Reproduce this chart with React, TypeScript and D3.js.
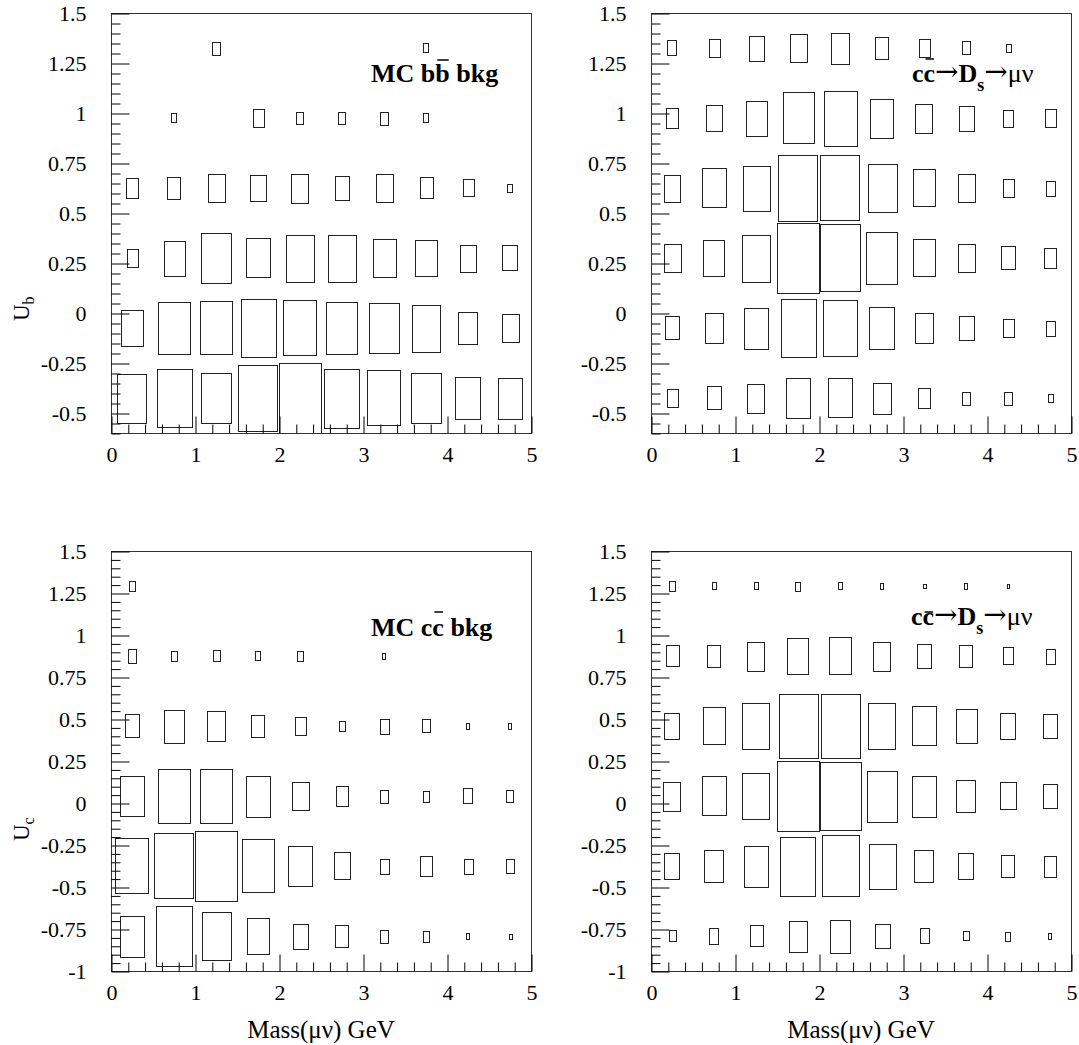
// @ts-nocheck
import React, { useEffect, useRef } from "react";
import * as d3 from "d3";

// bin edges of the 2D histograms
const massEdges = [0, 0.5, 1, 1.5, 2, 2.5, 3, 3.5, 4, 4.5, 5];
const ubEdges = [-0.6, -0.25, 0.1, 0.45, 0.8, 1.15, 1.5];
const ucEdges = [-1, -0.5833, -0.1667, 0.25, 0.6667, 1.0833, 1.5];

// tick labels
const massTicks = [0, 1, 2, 3, 4, 5];
const ubTicks = [-0.5, -0.25, 0, 0.25, 0.5, 0.75, 1, 1.25, 1.5];
const ucTicks = [-1, -0.75, -0.5, -0.25, 0, 0.25, 0.5, 0.75, 1, 1.25, 1.5];

// bin contents, one row per y bin (lowest first), one value per mass bin
const bbbarUb = [
  [70, 83, 71, 94, 100, 84, 79, 71, 60, 58],
  [52, 75, 76, 83, 79, 74, 72, 67, 46, 40],
  [25, 50, 71, 56, 67, 67, 54, 52, 38, 36],
  [28, 32, 40, 37, 41, 34, 40, 30, 25, 12],
  [0, 13, 0, 25, 17, 17, 18, 13, 0, 0],
  [0, 0, 18, 0, 0, 0, 0, 13, 0, 0],
];
const dsUb = [
  [25, 33, 41, 57, 56, 44, 28, 18, 18, 11],
  [33, 43, 58, 83, 80, 60, 43, 35, 26, 21],
  [40, 51, 67, 100, 96, 74, 53, 40, 33, 29],
  [38, 56, 64, 94, 93, 69, 53, 40, 26, 21],
  [28, 37, 50, 73, 78, 55, 41, 35, 24, 25],
  [22, 25, 35, 40, 44, 31, 25, 19, 11, 0],
];
const ccbarUc = [
  [58, 85, 68, 52, 35, 32, 18, 15, 8, 7],
  [79, 93, 100, 76, 57, 39, 21, 28, 21, 20],
  [57, 77, 77, 58, 40, 28, 18, 15, 22, 17],
  [33, 47, 43, 32, 25, 14, 21, 19, 8, 8],
  [20, 14, 16, 13, 15, 0, 8, 0, 0, 0],
  [14, 0, 0, 0, 0, 0, 0, 0, 0, 0],
];
const dsUc = [
  [16, 22, 30, 43, 46, 34, 21, 13, 12, 8],
  [36, 45, 57, 82, 86, 63, 45, 36, 31, 29],
  [40, 55, 64, 98, 95, 71, 57, 45, 38, 33],
  [36, 52, 64, 90, 90, 64, 55, 48, 36, 33],
  [30, 31, 40, 50, 52, 40, 33, 31, 24, 21],
  [14, 10, 10, 12, 10, 8, 6, 8, 5, 0],
];

// panel texts
const bbLabel = [
  { t: "MC b", bold: true },
  { t: "b", bold: true, bar: true },
  { t: " bkg", bold: true },
];
const ccLabel = [
  { t: "MC c", bold: true },
  { t: "c", bold: true, bar: true },
  { t: " bkg", bold: true },
];
const dsLabel = [
  { t: "c", bold: true },
  { t: "c", bold: true, bar: true },
  { t: "\u2192", arrow: true },
  { t: "D", bold: true },
  { t: "s", bold: true, sub: true },
  { t: "\u2192", arrow: true },
  { t: "\u03bc\u03bd" },
];
const xTitle = "Mass(\u03bc\u03bd) GeV";

const serif = "'Liberation Serif', 'Times New Roman', serif";

const panels = [
  { left: 111, top: 13, yEdges: ubEdges, yTicks: ubTicks, data: bbbarUb, label: bbLabel, lx: 260, ly: 69, barRise: 22, yTitle: ["U", "b"], titleY: 321, xTitle: false },
  { left: 651, top: 13, yEdges: ubEdges, yTicks: ubTicks, data: dsUb, label: dsLabel, lx: 261, ly: 69, barRise: 23, yTitle: null, xTitle: false },
  { left: 111, top: 551, yEdges: ucEdges, yTicks: ucTicks, data: ccbarUc, label: ccLabel, lx: 260, ly: 85, barRise: 24, yTitle: ["U", "c"], titleY: 841, xTitle: true },
  { left: 651, top: 551, yEdges: ucEdges, yTicks: ucTicks, data: dsUc, label: dsLabel, lx: 260, ly: 74, barRise: 13, yTitle: null, xTitle: true },
];

const W = 420;
const H = 420;

function drawLabel(g, parts, x0, y0, barRise) {
  let x = x0;
  parts.forEach((p) => {
    const t = g
      .append("text")
      .attr("x", x)
      .attr("y", y0 + (p.sub ? 9 : p.arrow ? -1 : 0))
      .attr("font-family", p.arrow ? "'DejaVu Serif', serif" : serif)
      .attr("font-size", p.sub ? 18 : p.arrow ? 28 : 26)
      .attr("font-weight", p.bold ? "bold" : "normal")
      .style("white-space", "pre")
      .text(p.t);
    const w = t.node().getComputedTextLength();
    if (p.bar) {
      g.append("line")
        .attr("x1", x + 2)
        .attr("x2", x + w - 1)
        .attr("y1", y0 - barRise)
        .attr("y2", y0 - barRise)
        .attr("stroke", "#000")
        .attr("stroke-width", 1.5);
    }
    x += w;
  });
}

export default function App() {
  const ref = useRef(null);

  useEffect(() => {
    const svg = d3.select(ref.current);
    svg.selectAll("*").remove();

    panels.forEach((p) => {
      const g = svg.append("g").attr("transform", `translate(${p.left},${p.top})`);
      const yMin = p.yEdges[0];
      const yMax = p.yEdges[p.yEdges.length - 1];
      const x = d3.scaleLinear().domain([0, 5]).range([0, W]);
      const y = d3.scaleLinear().domain([yMin, yMax]).range([H, 0]);
      const vmax = d3.max(p.data.flat());
      const frac = d3.scaleLinear().domain([0, vmax]).range([0, 1]);

      // boxes
      p.data.forEach((row, j) => {
        const y0 = p.yEdges[j];
        const y1 = p.yEdges[j + 1];
        row.forEach((v, i) => {
          if (!v) return;
          const x0 = massEdges[i];
          const x1 = massEdges[i + 1];
          const f = frac(v);
          const cx = x((x0 + x1) / 2);
          const cy = y((y0 + y1) / 2);
          const bw = (x(x1) - x(x0)) * f;
          const bh = (y(y0) - y(y1)) * f;
          g.append("rect")
            .attr("x", Math.round(cx - bw / 2) + 0.5)
            .attr("y", Math.round(cy - bh / 2) + 0.5)
            .attr("width", Math.max(2, Math.round(bw)))
            .attr("height", Math.max(2, Math.round(bh)))
            .attr("fill", "none")
            .attr("stroke", "#222")
            .attr("stroke-width", 1);
        });
      });

      // frame
      g.append("rect")
        .attr("x", 0.5)
        .attr("y", 0.5)
        .attr("width", W)
        .attr("height", H)
        .attr("fill", "none")
        .attr("stroke", "#333")
        .attr("stroke-width", 1);

      // x axis ticks (pointing inward)
      const xMinor = d3.range(0, 5.0001, 0.2).filter((v) => Math.abs(v - Math.round(v)) > 1e-6);
      const gxMinor = g.append("g").attr("transform", `translate(0.5,${H + 0.5})`);
      gxMinor.call(d3.axisBottom(x).tickValues(xMinor).tickSize(-9).tickFormat(""));
      const gx = g.append("g").attr("transform", `translate(0.5,${H + 0.5})`);
      gx.call(d3.axisBottom(x).tickValues(massTicks).tickSize(-17).tickPadding(13).tickFormat((d) => String(d)));

      // y axis ticks
      const yMinor = d3
        .range(Math.round(yMin * 20), Math.round(yMax * 20) + 1)
        .map((k) => k / 20)
        .filter((v) => Math.abs(v * 4 - Math.round(v * 4)) > 1e-6);
      const gyMinor = g.append("g").attr("transform", "translate(0.5,0.5)");
      gyMinor.call(d3.axisLeft(y).tickValues(yMinor).tickSize(-9).tickFormat(""));
      const gy = g.append("g").attr("transform", "translate(0.5,0.5)");
      gy.call(d3.axisLeft(y).tickValues(p.yTicks).tickSize(-18).tickPadding(25).tickFormat((d) => String(d)));

      g.selectAll(".domain").remove();
      g.selectAll(".tick line").attr("stroke", "#000");
      g.selectAll(".tick text").attr("font-family", serif).attr("font-size", 22).attr("fill", "#000");

      // panel label
      drawLabel(g, p.label, p.lx, p.ly, p.barRise);

      // y title
      if (p.yTitle) {
        const t = g
          .append("text")
          .attr("transform", `translate(${29 - p.left},${p.titleY - p.top}) rotate(-90)`)
          .attr("font-family", serif)
          .attr("font-size", 23);
        t.append("tspan").text(p.yTitle[0]);
        t.append("tspan").attr("dy", 5).attr("font-size", 16).text(p.yTitle[1]);
      }

      // x title
      if (p.xTitle) {
        g.append("text")
          .attr("x", W / 2)
          .attr("y", 1038 - p.top)
          .attr("text-anchor", "middle")
          .attr("font-family", serif)
          .attr("font-size", 25)
          .text(xTitle);
      }
    });
  }, []);

  return (
    <svg
      ref={ref}
      width={1079}
      height={1045}
      style={{ position: "absolute", left: 0, top: 0, background: "#fff", display: "block" }}
    />
  );
}
